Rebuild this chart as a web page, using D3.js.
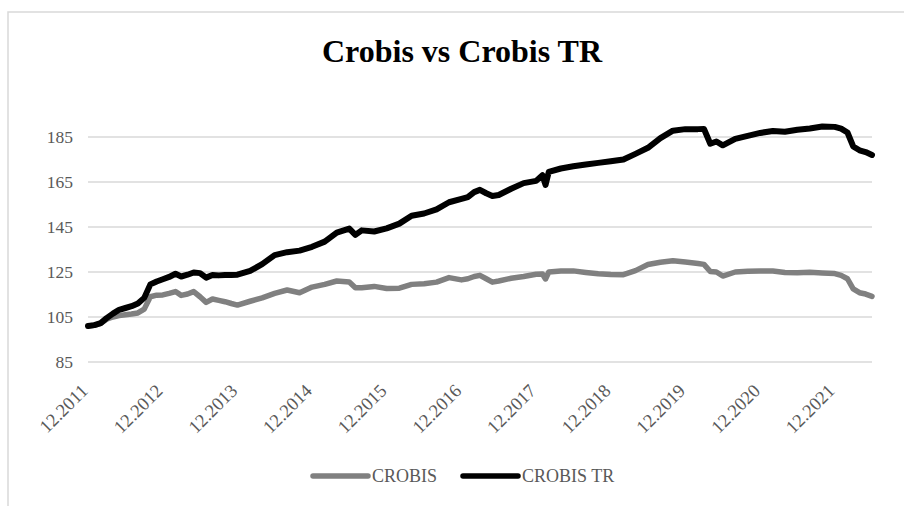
<!DOCTYPE html>
<html lang="en">

<head>
    <meta charset="UTF-8">
    <title>Crobis vs Crobis TR</title>
    <script src="https://d3js.org/d3.v7.min.js"></script>
    <style>
        body { margin: 0; background: #fff; }
    </style>
</head>

<body>
    <svg id="chart" width="904" height="506"></svg>
    <script>
        // values, roughly monthly
        var dates = [
            "2011-12-01", "2012-01-01", "2012-02-01", "2012-03-01", "2012-04-01", "2012-05-01", "2012-06-01",
            "2012-07-01", "2012-08-01", "2012-09-01", "2012-10-01", "2012-11-01", "2012-12-01",
            "2013-01-01", "2013-02-01", "2013-03-01", "2013-04-01", "2013-05-01", "2013-06-01",
            "2013-07-01", "2013-08-01", "2013-09-01", "2013-10-01", "2013-11-01", "2013-12-01",
            "2014-02-01", "2014-04-01", "2014-06-01", "2014-08-01", "2014-10-01", "2014-12-01",
            "2015-02-01", "2015-04-01", "2015-06-01", "2015-07-01", "2015-08-01", "2015-10-01", "2015-12-01",
            "2016-02-01", "2016-04-01", "2016-06-01", "2016-08-01", "2016-10-01", "2016-12-01",
            "2017-01-01", "2017-02-01", "2017-03-01", "2017-04-01", "2017-05-01", "2017-06-01",
            "2017-08-01", "2017-10-01", "2017-12-01",
            "2018-01-01", "2018-01-16", "2018-02-01", "2018-04-01", "2018-06-01", "2018-08-01",
            "2018-10-01", "2018-12-01",
            "2019-02-01", "2019-04-01", "2019-06-01", "2019-08-01", "2019-10-01", "2019-12-01",
            "2020-02-01", "2020-03-01", "2020-04-01", "2020-05-01", "2020-06-01", "2020-08-01",
            "2020-10-01", "2020-12-01",
            "2021-02-01", "2021-04-01", "2021-06-01", "2021-08-01", "2021-10-01", "2021-12-01",
            "2022-01-01", "2022-02-01", "2022-03-01", "2022-04-01", "2022-05-01", "2022-06-01"
        ];

        var crobis = [
            101, 101.3, 102.2, 104, 105, 105.6, 106, 106.3, 106.8, 108.5, 114, 114.7, 114.8,
            115.5, 116.3, 114.6, 115.2, 116.3, 114, 111.5, 113, 112.4, 111.8, 111, 110.3,
            112, 113.5, 115.5, 117, 115.8, 118.3,
            119.5, 121, 120.6, 118, 118, 118.6, 117.7,
            117.8, 119.5, 119.8, 120.5, 122.5, 121.5,
            122, 123, 123.5, 122, 120.5, 121, 122.2, 123, 124,
            124.1, 121.9, 125, 125.4, 125.5, 124.8, 124.2, 123.9,
            123.8, 125.6, 128.3, 129.3, 130, 129.4,
            128.8, 128.4, 125.2, 125, 123.2, 125, 125.3, 125.4,
            125.4, 124.8, 124.7, 124.9, 124.6, 124.3,
            123.5, 122, 117.5, 115.8, 115.2, 114.2
        ];

        var crobisTR = [
            101, 101.4, 102.3, 104.5, 106.5, 108.2, 109, 109.8, 111, 113.5, 119.5, 120.8, 121.8,
            122.8, 124.2, 123, 123.8, 124.8, 124.5, 122.5, 123.7, 123.5, 123.7, 123.7, 123.8,
            125.5, 128.5, 132.5, 133.8, 134.5, 136.2,
            138.5, 142.5, 144.3, 141.5, 143.5, 143, 144.4,
            146.5, 150, 151, 152.8, 156, 157.5,
            158.3, 160.5, 161.5, 160, 158.8, 159.2, 162, 164.5, 165.5,
            168, 163.7, 169.5, 171, 172, 172.8, 173.5, 174.2,
            175, 177.5, 180.2, 184.5, 187.8, 188.5,
            188.5, 188.6, 182, 183, 181.3, 184.2, 185.5, 186.8,
            187.7, 187.3, 188.2, 188.8, 189.7, 189.5,
            188.7, 187, 180.8, 179.1, 178.3, 177
        ];

        var yTicks = [85, 105, 125, 145, 165, 185];
        var xTickDates = ["2011-12-01", "2012-12-01", "2013-12-01", "2014-12-01", "2015-12-01", "2016-12-01",
            "2017-12-01", "2018-12-01", "2019-12-01", "2020-12-01", "2021-12-01"];
        var seriesNames = ["CROBIS", "CROBIS TR"];
        var seriesColors = ["#808080", "#000000"];

        var parse = d3.timeParse("%Y-%m-%d");
        var fmt = d3.timeFormat("%m.%Y");
        var serif = "'Liberation Serif', 'Times New Roman', serif";

        var svg = d3.select("#chart");

        // outer frame of the chart
        svg.append("rect")
            .attr("x", 8)
            .attr("y", 12)
            .attr("width", 1000)
            .attr("height", 600)
            .attr("fill", "#fff")
            .attr("stroke", "#d9d9d9")
            .attr("stroke-width", 1.5);

        var x = d3.scaleTime()
            .domain([parse("2011-12-01"), parse("2022-06-01")])
            .range([88, 872]);

        var y = d3.scaleLinear()
            .domain([85, 185])
            .range([362, 137]);

        // gridlines
        svg.append("g")
            .selectAll("line")
            .data(yTicks)
            .enter()
            .append("line")
            .attr("x1", 88)
            .attr("x2", 872)
            .attr("y1", function (d) { return y(d); })
            .attr("y2", function (d) { return y(d); })
            .attr("stroke", "#d9d9d9")
            .attr("stroke-width", 1.5);

        // y labels
        var yAxis = d3.axisLeft(y).tickValues(yTicks).tickSize(0).tickPadding(15);
        var gy = svg.append("g").attr("transform", "translate(88,0)").call(yAxis);
        gy.select(".domain").remove();
        gy.selectAll("text")
            .attr("font-family", serif)
            .attr("font-size", 17.5)
            .attr("fill", "#595959");

        // x labels, rotated
        svg.append("g")
            .selectAll("text")
            .data(xTickDates)
            .enter()
            .append("text")
            .attr("transform", function (d) {
                return "translate(" + (x(parse(d)) + 1) + ",392) rotate(-45)";
            })
            .attr("text-anchor", "end")
            .attr("font-family", serif)
            .attr("font-size", 18.5)
            .attr("fill", "#595959")
            .text(function (d) { return fmt(parse(d)); });

        var rows = dates.map(function (d, i) {
            return { date: parse(d), v: [crobis[i], crobisTR[i]] };
        });

        [0, 1].forEach(function (k) {
            var line = d3.line()
                .x(function (d) { return x(d.date); })
                .y(function (d) { return y(d.v[k]); });
            svg.append("path")
                .datum(rows)
                .attr("d", line)
                .attr("fill", "none")
                .attr("stroke", seriesColors[k])
                .attr("stroke-width", k === 1 ? 6 : 5.5)
                .attr("stroke-linejoin", "round")
                .attr("stroke-linecap", "round");
        });

        // title
        svg.append("text")
            .attr("x", 462)
            .attr("y", 62)
            .attr("text-anchor", "middle")
            .attr("font-family", serif)
            .attr("font-weight", "bold")
            .attr("font-size", 32)
            .attr("fill", "#000")
            .text("Crobis vs Crobis TR");

        // legend
        var legendX = [313, 463];
        var leg = svg.append("g")
            .selectAll("g")
            .data(seriesNames)
            .enter()
            .append("g")
            .attr("transform", function (d, i) { return "translate(" + legendX[i] + ",476)"; });
        leg.append("line")
            .attr("x1", 0)
            .attr("x2", 55)
            .attr("stroke", function (d, i) { return seriesColors[i]; })
            .attr("stroke-width", 5.5)
            .attr("stroke-linecap", "round");
        leg.append("text")
            .attr("x", 59)
            .attr("y", 6)
            .attr("font-family", serif)
            .attr("font-size", 18)
            .attr("fill", "#595959")
            .text(function (d) { return d; });
    </script>
</body>

</html>
